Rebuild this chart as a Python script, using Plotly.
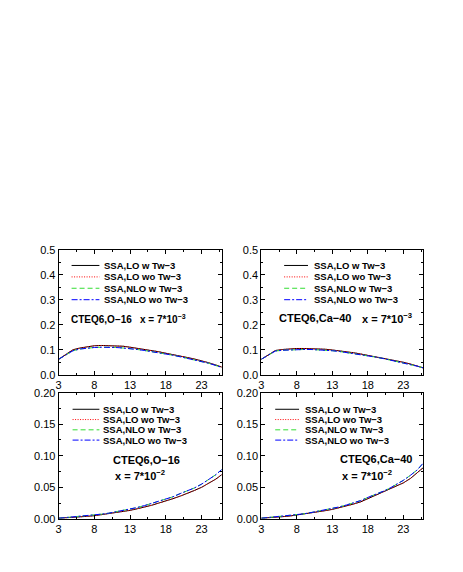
import plotly.graph_objects as go

# ---------------- data ----------------
x_vals = [3, 4, 5, 6, 7, 8, 9, 10, 11, 12, 13, 14, 15, 16, 17, 18, 19, 20, 21, 22, 23, 24, 25, 26]

series_names = ["SSA,LO w Tw\u22123", "SSA,LO wo Tw\u22123", "SSA,NLO w Tw\u22123", "SSA,NLO wo Tw\u22123"]

# top-left: CTEQ6, O-16, x = 7*10^-3
o16_x3_lo_w = [0.063, 0.083, 0.101, 0.108, 0.114, 0.117, 0.118, 0.118, 0.117, 0.115, 0.111, 0.107, 0.103, 0.098, 0.093, 0.087, 0.082, 0.076, 0.070, 0.064, 0.058, 0.049, 0.040, 0.030]
o16_x3_lo_wo = [0.063, 0.083, 0.101, 0.108, 0.114, 0.117, 0.118, 0.118, 0.117, 0.115, 0.111, 0.107, 0.103, 0.098, 0.093, 0.087, 0.082, 0.076, 0.070, 0.064, 0.058, 0.049, 0.040, 0.030]
o16_x3_nlo_w = [0.063, 0.080, 0.097, 0.104, 0.108, 0.110, 0.111, 0.111, 0.110, 0.108, 0.106, 0.102, 0.098, 0.094, 0.089, 0.084, 0.079, 0.073, 0.067, 0.061, 0.055, 0.047, 0.038, 0.029]
o16_x3_nlo_wo = [0.063, 0.080, 0.097, 0.104, 0.108, 0.110, 0.111, 0.111, 0.110, 0.108, 0.106, 0.102, 0.098, 0.094, 0.089, 0.084, 0.079, 0.073, 0.067, 0.061, 0.055, 0.047, 0.038, 0.029]

# top-right: CTEQ6, Ca-40, x = 7*10^-3
ca40_x3_lo_w = [0.063, 0.082, 0.098, 0.102, 0.105, 0.106, 0.106, 0.106, 0.105, 0.103, 0.100, 0.097, 0.093, 0.089, 0.084, 0.079, 0.074, 0.069, 0.063, 0.057, 0.051, 0.044, 0.036, 0.027]
ca40_x3_lo_wo = [0.063, 0.082, 0.098, 0.102, 0.105, 0.106, 0.106, 0.106, 0.105, 0.103, 0.100, 0.097, 0.093, 0.089, 0.084, 0.079, 0.074, 0.069, 0.063, 0.057, 0.051, 0.044, 0.036, 0.027]
ca40_x3_nlo_w = [0.063, 0.080, 0.096, 0.099, 0.101, 0.102, 0.102, 0.102, 0.101, 0.099, 0.097, 0.094, 0.090, 0.086, 0.082, 0.077, 0.072, 0.067, 0.061, 0.056, 0.050, 0.043, 0.035, 0.027]
ca40_x3_nlo_wo = [0.063, 0.080, 0.096, 0.099, 0.101, 0.102, 0.102, 0.102, 0.101, 0.099, 0.097, 0.094, 0.090, 0.086, 0.082, 0.077, 0.072, 0.067, 0.061, 0.056, 0.050, 0.043, 0.035, 0.027]

# bottom-left: CTEQ6, O-16, x = 7*10^-2
o16_x2_lo_w = [0.001, 0.0015, 0.002, 0.003, 0.004, 0.005, 0.0065, 0.008, 0.0095, 0.0115, 0.0135, 0.016, 0.0185, 0.0215, 0.025, 0.028, 0.032, 0.036, 0.040, 0.045, 0.050, 0.056, 0.063, 0.0715]
o16_x2_lo_wo = [0.001, 0.0015, 0.002, 0.003, 0.004, 0.005, 0.0065, 0.008, 0.0095, 0.0115, 0.0135, 0.016, 0.0185, 0.0215, 0.025, 0.028, 0.032, 0.036, 0.040, 0.045, 0.050, 0.056, 0.063, 0.0715]
o16_x2_nlo_w = [0.001, 0.002, 0.0025, 0.0035, 0.0045, 0.006, 0.0075, 0.009, 0.011, 0.013, 0.0155, 0.018, 0.021, 0.024, 0.028, 0.0315, 0.035, 0.040, 0.044, 0.049, 0.055, 0.062, 0.070, 0.080]
o16_x2_nlo_wo = [0.001, 0.002, 0.0025, 0.0035, 0.0045, 0.006, 0.0075, 0.009, 0.011, 0.013, 0.0155, 0.018, 0.021, 0.024, 0.028, 0.0315, 0.035, 0.040, 0.044, 0.049, 0.055, 0.062, 0.070, 0.080]

# bottom-right: CTEQ6, Ca-40, x = 7*10^-2
ca40_x2_lo_w = [0.001, 0.0015, 0.0025, 0.0035, 0.0045, 0.006, 0.0075, 0.009, 0.011, 0.013, 0.015, 0.0175, 0.020, 0.0235, 0.027, 0.032, 0.036, 0.041, 0.046, 0.051, 0.057, 0.064, 0.073, 0.083]
ca40_x2_lo_wo = [0.001, 0.0015, 0.0025, 0.0035, 0.0045, 0.006, 0.0075, 0.009, 0.011, 0.013, 0.015, 0.0175, 0.020, 0.0235, 0.027, 0.032, 0.036, 0.041, 0.046, 0.051, 0.057, 0.064, 0.073, 0.083]
ca40_x2_nlo_w = [0.001, 0.002, 0.003, 0.004, 0.005, 0.0065, 0.008, 0.010, 0.012, 0.014, 0.0165, 0.019, 0.022, 0.0255, 0.029, 0.034, 0.038, 0.043, 0.048, 0.054, 0.061, 0.069, 0.078, 0.091]
ca40_x2_nlo_wo = [0.001, 0.002, 0.003, 0.004, 0.005, 0.0065, 0.008, 0.010, 0.012, 0.014, 0.0165, 0.019, 0.022, 0.0255, 0.029, 0.034, 0.038, 0.043, 0.048, 0.054, 0.061, 0.069, 0.078, 0.091]

x_tick_vals = [3, 8, 13, 18, 23]
x_tick_text = ["3", "8", "13", "18", "23"]
top_y_ticks = [0.0, 0.1, 0.2, 0.3, 0.4, 0.5]
top_y_text = ["0.0", "0.1", "0.2", "0.3", "0.4", "0.5"]
bot_y_ticks = [0.00, 0.05, 0.10, 0.15, 0.20]
bot_y_text = ["0.00", "0.05", "0.10", "0.15", "0.20"]

panel_labels = [
    ("CTEQ6,O\u221216", "x = 7*10<sup>\u22123</sup>"),
    ("CTEQ6,Ca\u221240", "x = 7*10<sup>\u22123</sup>"),
    ("CTEQ6,O\u221216", "x = 7*10<sup>\u22122</sup>"),
    ("CTEQ6,Ca\u221240", "x = 7*10<sup>\u22122</sup>"),
]

# ---------------- styling / layout ----------------
OFF = 8  # page body margin
W, H = 463 - 2 * OFF, 572 - 2 * OFF
FONT = "Liberation Sans, Arial, Helvetica, sans-serif"
colors = ["#000000", "#ff0000", "#33dd33", "#0000ff"]
dashes = ["solid", "1px,1.5px", "5px,3px", "6px,2px,2px,2px"]


def px_x(p):
    return (p - OFF) / W


def px_y(p):
    return 1 - (p - OFF) / H


panels = [
    dict(data=[o16_x3_lo_w, o16_x3_lo_wo, o16_x3_nlo_w, o16_x3_nlo_wo], xd=(56, 220), yd=(377, 249), top=True),
    dict(data=[ca40_x3_lo_w, ca40_x3_lo_wo, ca40_x3_nlo_w, ca40_x3_nlo_wo], xd=(260, 423), yd=(377, 249), top=True),
    dict(data=[o16_x2_lo_w, o16_x2_lo_wo, o16_x2_nlo_w, o16_x2_nlo_wo], xd=(56, 220), yd=(524, 395), top=False),
    dict(data=[ca40_x2_lo_w, ca40_x2_lo_wo, ca40_x2_nlo_w, ca40_x2_nlo_wo], xd=(260, 423), yd=(524, 395), top=False),
]

# legend geometry per panel (pixel positions): key x0, key x1, text x, row ys
legend_geo = [
    (69, 97, 100, [265, 276.7, 288.3, 300]),
    (283, 307, 311, [265, 276.7, 288.3, 300]),
    (70, 97, 99, [412, 422.5, 433, 443.5]),
    (274, 298, 302, [412, 422.5, 433, 443.5]),
]
# panel label positions: (x1, y1, x2, y2, size)
label_geo = [
    (66, 320, 136, 320, 10),
    (276, 319, 359, 319, 11),
    (109, 464, 111, 479, 11),
    (337, 463, 339, 479, 11),
]

fig = go.Figure()
layout = dict(
    width=W, height=H,
    margin=dict(l=0, r=0, t=0, b=0),
    paper_bgcolor="white", plot_bgcolor="white",
    showlegend=False,
    font=dict(family=FONT, size=11, color="black"),
)
shapes = []
annotations = []

for i, p in enumerate(panels):
    n = i + 1
    xa = "x" if n == 1 else f"x{n}"
    ya = "y" if n == 1 else f"y{n}"
    for j in range(4):
        fig.add_trace(go.Scatter(
            x=x_vals, y=p["data"][j], mode="lines", name=series_names[j],
            line=dict(color=colors[j], width=1, dash=dashes[j]),
            xaxis=xa, yaxis=ya, hoverinfo="skip",
        ))
    axis_common = dict(
        showline=True, linecolor="black", linewidth=1, mirror="ticks",
        ticks="inside", ticklen=4, tickcolor="black", tickwidth=1,
        showgrid=False, zeroline=False,
        tickfont=dict(family=FONT, size=11, color="black"),
    )
    layout["xaxis" if n == 1 else f"xaxis{n}"] = dict(
        axis_common,
        domain=[px_x(p["xd"][0]), px_x(p["xd"][1])],
        range=[3, 25.8], tickmode="array", tickvals=x_tick_vals, ticktext=x_tick_text,
        minor=dict(ticks="inside", ticklen=2, tickcolor="black", dtick=2.5, tick0=3),
        anchor=ya,
    )
    if p["top"]:
        ytv, ytt, yr, ydt = top_y_ticks, top_y_text, [0, 0.5], 0.05
    else:
        ytv, ytt, yr, ydt = bot_y_ticks, bot_y_text, [0, 0.2], 0.025
    layout["yaxis" if n == 1 else f"yaxis{n}"] = dict(
        axis_common,
        domain=[px_y(p["yd"][0]), px_y(p["yd"][1])],
        range=yr, tickmode="array", tickvals=ytv, ticktext=ytt,
        minor=dict(ticks="inside", ticklen=2, tickcolor="black", dtick=ydt, tick0=0),
        anchor=xa,
    )

    # manual legend
    kx0, kx1, tx, rows = legend_geo[i]
    for j in range(4):
        shapes.append(dict(
            type="line", xref="paper", yref="paper",
            x0=px_x(kx0), x1=px_x(kx1), y0=px_y(rows[j]), y1=px_y(rows[j]),
            line=dict(color=colors[j], width=1, dash=dashes[j]),
        ))
        annotations.append(dict(
            x=px_x(tx), y=px_y(rows[j]), xref="paper", yref="paper",
            text=f"<b>{series_names[j]}</b>", showarrow=False,
            xanchor="left", yanchor="middle",
            font=dict(family=FONT, size=9.5, color="black"),
        ))
    # panel labels
    lx1, ly1, lx2, ly2, lsz = label_geo[i]
    t1, t2 = panel_labels[i]
    annotations.append(dict(
        x=px_x(lx1), y=px_y(ly1), xref="paper", yref="paper",
        text=f"<b>{t1}</b>", showarrow=False, xanchor="left", yanchor="middle",
        font=dict(family=FONT, size=lsz, color="black"),
    ))
    annotations.append(dict(
        x=px_x(lx2), y=px_y(ly2), xref="paper", yref="paper",
        text=f"<b>{t2}</b>", showarrow=False, xanchor="left", yanchor="middle",
        font=dict(family=FONT, size=lsz, color="black"),
    ))

layout["shapes"] = shapes
layout["annotations"] = annotations
fig.update_layout(**layout)
fig.write_html("out.html")
